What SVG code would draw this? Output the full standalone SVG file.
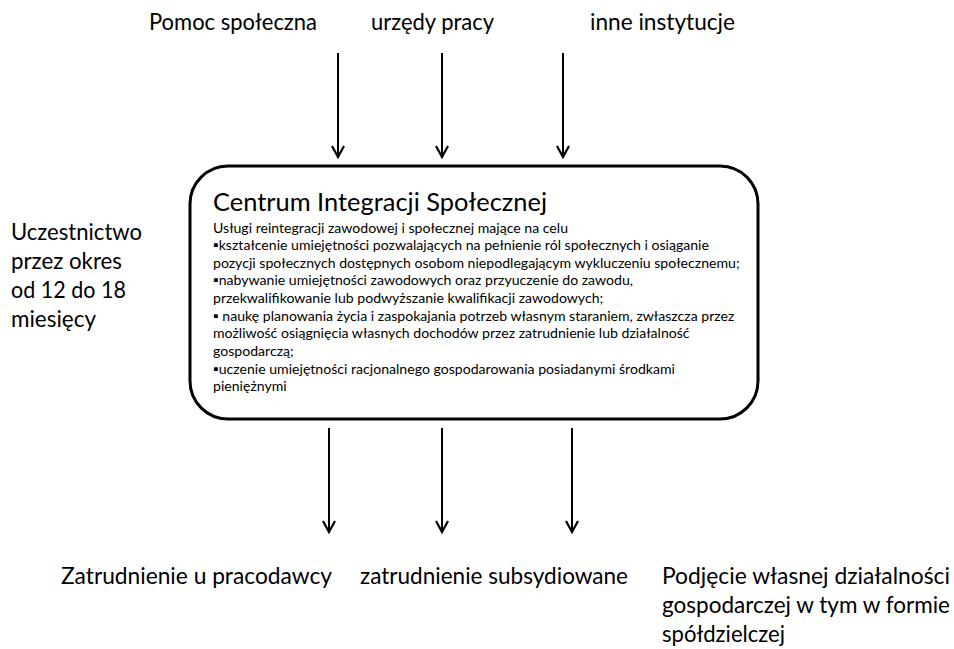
<svg xmlns="http://www.w3.org/2000/svg" width="954" height="649" viewBox="0 0 954 649">
<defs>
<style>
.lbl{font-family:Lato,"Liberation Sans",sans-serif;font-size:23px;fill:#000}
.ttl{font-family:Lato,"Liberation Sans",sans-serif;font-size:25.4px;fill:#000}
.body{font-family:Lato,"Liberation Sans",sans-serif;font-size:14.1px;fill:#000}
.arr{stroke:#000;stroke-width:2;fill:none;marker-end:url(#ah)}
</style>
<marker id="ah" markerUnits="userSpaceOnUse" viewBox="-12 -8 14 16" refX="0" refY="0" markerWidth="14" markerHeight="16" orient="auto">
<path d="M-11,-6 L0,0 L-11,6" fill="none" stroke="#000" stroke-width="2.2"/>
</marker>
</defs>
<rect width="954" height="649" fill="#fff"/>
<g id="src-pomoc"><text class="lbl" x="149" y="30" textLength="168" lengthAdjust="spacingAndGlyphs">Pomoc społeczna</text></g>
<g id="src-urzedy"><text class="lbl" x="371" y="30" textLength="123" lengthAdjust="spacingAndGlyphs">urzędy pracy</text></g>
<g id="src-inne"><text class="lbl" x="590" y="30" textLength="145" lengthAdjust="spacingAndGlyphs">inne instytucje</text></g>
<g id="uczestnictwo">
<text class="lbl" x="11" y="240" textLength="131" lengthAdjust="spacingAndGlyphs">Uczestnictwo</text>
<text class="lbl" x="11" y="269" textLength="111" lengthAdjust="spacingAndGlyphs">przez okres</text>
<text class="lbl" x="11" y="298" textLength="115" lengthAdjust="spacingAndGlyphs">od 12 do 18</text>
<text class="lbl" x="11" y="327" textLength="85" lengthAdjust="spacingAndGlyphs">miesięcy</text>
</g>
<g id="cis">
<rect x="190" y="166" width="568" height="253" rx="38" ry="38" fill="#fff" stroke="#000" stroke-width="3"/>
<text class="ttl" x="213" y="211" textLength="334" lengthAdjust="spacingAndGlyphs">Centrum Integracji Społecznej</text>
<text class="body" x="213" y="232.5">Usługi reintegracji zawodowej i społecznej mające na celu</text>
<text class="body" x="213" y="250.1">▪kształcenie umiejętności pozwalających na pełnienie ról społecznych i osiąganie</text>
<text class="body" x="213" y="267.8">pozycji społecznych dostępnych osobom niepodlegającym wykluczeniu społecznemu;</text>
<text class="body" x="213" y="285.4">▪nabywanie umiejętności zawodowych oraz przyuczenie do zawodu,</text>
<text class="body" x="213" y="303.1">przekwalifikowanie lub podwyższanie kwalifikacji zawodowych;</text>
<text class="body" x="213" y="320.7">▪ naukę planowania życia i zaspokajania potrzeb własnym staraniem, zwłaszcza przez</text>
<text class="body" x="213" y="338.4">możliwość osiągnięcia własnych dochodów przez zatrudnienie lub działalność</text>
<text class="body" x="213" y="356">gospodarczą;</text>
<text class="body" x="213" y="373.7">▪uczenie umiejętności racjonalnego gospodarowania posiadanymi środkami</text>
<text class="body" x="213" y="391.3">pieniężnymi</text>
</g>
<g id="out-pracodawca"><text class="lbl" x="61" y="584" textLength="271" lengthAdjust="spacingAndGlyphs">Zatrudnienie u pracodawcy</text></g>
<g id="out-subsydiowane"><text class="lbl" x="360" y="584" textLength="268" lengthAdjust="spacingAndGlyphs">zatrudnienie subsydiowane</text></g>
<g id="out-dzialalnosc">
<text class="lbl" x="662" y="584" textLength="288" lengthAdjust="spacingAndGlyphs">Podjęcie własnej działalności</text>
<text class="lbl" x="662" y="613" textLength="288" lengthAdjust="spacingAndGlyphs">gospodarczej w tym w formie</text>
<text class="lbl" x="662" y="642" textLength="123" lengthAdjust="spacingAndGlyphs">spółdzielczej</text>
</g>
<g id="connectors">
<line class="arr" x1="338" y1="53" x2="338" y2="157"/>
<line class="arr" x1="442" y1="53" x2="442" y2="157"/>
<line class="arr" x1="563" y1="53" x2="563" y2="157"/>
<line class="arr" x1="329" y1="428" x2="329" y2="532"/>
<line class="arr" x1="442" y1="428" x2="442" y2="532"/>
<line class="arr" x1="572" y1="428" x2="572" y2="532"/>
</g>
</svg>
